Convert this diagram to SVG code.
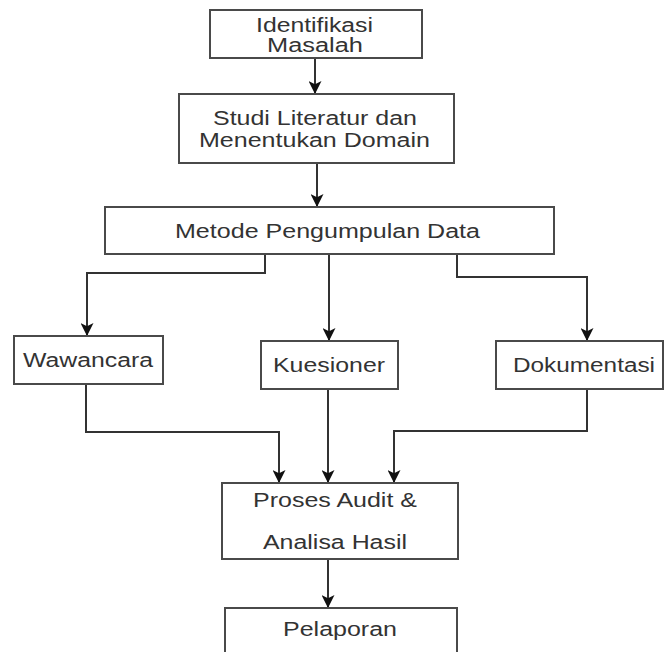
<svg xmlns="http://www.w3.org/2000/svg" width="665" height="652" viewBox="0 0 665 652">
<style>
.box{fill:#ffffff;stroke:#4a4a4a;stroke-width:2}
.lbl{font-family:"Liberation Sans",Arial,sans-serif;font-size:20px;fill:#333333;text-anchor:middle}
.con{fill:none;stroke:#333333;stroke-width:2;marker-end:url(#arr)}
</style>
<defs>
<marker id="arr" viewBox="0 0 12 12" refX="12" refY="6" markerWidth="13" markerHeight="13" markerUnits="userSpaceOnUse" orient="auto">
<path d="M0,0 L12,6 L0,12 L3,6 Z" fill="#111111"/>
</marker>
</defs>
<rect width="665" height="652" fill="#ffffff"/>
<g id="connectors">
<path class="con" d="M315,58 V94"/>
<path class="con" d="M317,163 V207"/>
<path class="con" d="M265,254 V273 H87 V336"/>
<path class="con" d="M329,254 V341"/>
<path class="con" d="M457,254 V277 H587 V341"/>
<path class="con" d="M86,384 V432 H279 V483"/>
<path class="con" d="M328,389 V483"/>
<path class="con" d="M587,389 V431 H394 V483"/>
<path class="con" d="M328,559 V608"/>
</g>
<g id="identifikasi">
<rect class="box" x="210" y="10" width="212" height="48"/>
<text class="lbl" x="314.5" y="31.5" textLength="117" lengthAdjust="spacingAndGlyphs">Identifikasi</text>
<text class="lbl" x="315" y="51.5" textLength="96" lengthAdjust="spacingAndGlyphs">Masalah</text>
</g>
<g id="studi">
<rect class="box" x="179" y="94" width="275" height="69"/>
<text class="lbl" x="315" y="125" textLength="204" lengthAdjust="spacingAndGlyphs">Studi Literatur dan</text>
<text class="lbl" x="314.5" y="146.5" textLength="231" lengthAdjust="spacingAndGlyphs">Menentukan Domain</text>
</g>
<g id="metode">
<rect class="box" x="105" y="207" width="449" height="47"/>
<text class="lbl" x="327.5" y="238" textLength="305" lengthAdjust="spacingAndGlyphs">Metode Pengumpulan Data</text>
</g>
<g id="wawancara">
<rect class="box" x="14" y="336" width="149" height="48"/>
<text class="lbl" x="88" y="367" textLength="130" lengthAdjust="spacingAndGlyphs">Wawancara</text>
</g>
<g id="kuesioner">
<rect class="box" x="261" y="341" width="137" height="48"/>
<text class="lbl" x="329" y="372" textLength="112" lengthAdjust="spacingAndGlyphs">Kuesioner</text>
</g>
<g id="dokumentasi">
<rect class="box" x="496" y="341" width="167" height="48"/>
<text class="lbl" x="584" y="372" textLength="142" lengthAdjust="spacingAndGlyphs">Dokumentasi</text>
</g>
<g id="proses">
<rect class="box" x="222" y="483" width="236" height="76"/>
<text class="lbl" x="335" y="507" textLength="164" lengthAdjust="spacingAndGlyphs">Proses Audit &amp;</text>
<text class="lbl" x="335" y="549" textLength="144" lengthAdjust="spacingAndGlyphs">Analisa Hasil</text>
</g>
<g id="pelaporan">
<rect class="box" x="225" y="608" width="232" height="60"/>
<text class="lbl" x="340" y="636" textLength="114" lengthAdjust="spacingAndGlyphs">Pelaporan</text>
</g>
</svg>
